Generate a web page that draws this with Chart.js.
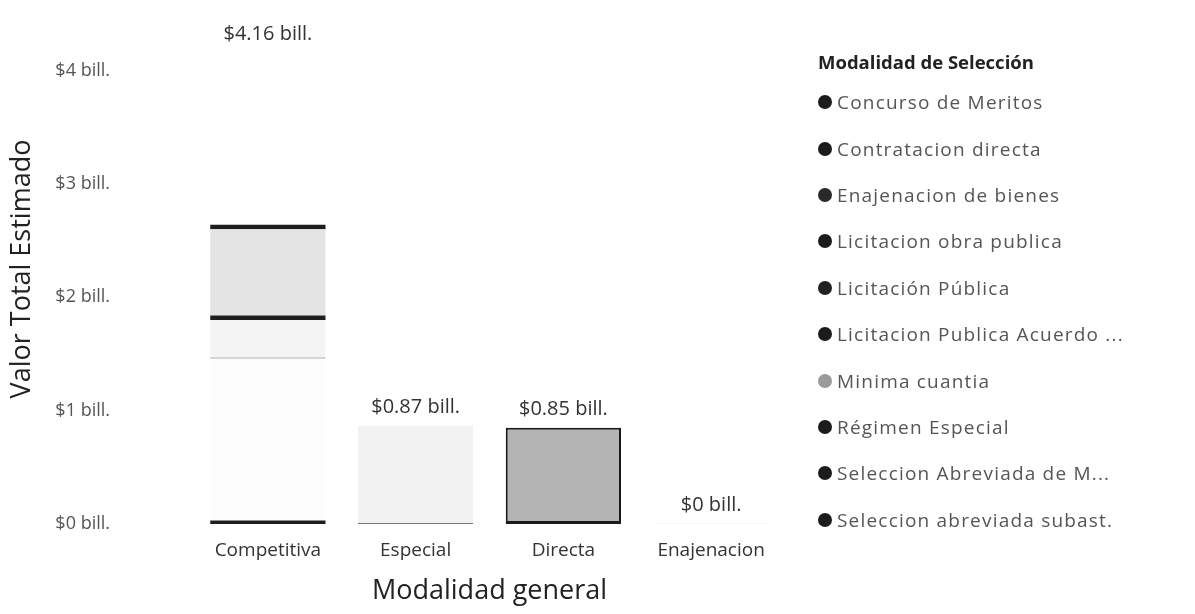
<!DOCTYPE html>
<html lang="es">
<head>
<meta charset="utf-8">
<script src="https://cdn.jsdelivr.net/npm/chart.js@4.4.1/dist/chart.umd.min.js"></script>
<style>
  html, body { margin: 0; padding: 0; background: #fff; }
  #wrap { position: relative; width: 1195px; height: 614px; overflow: hidden; }
  #grafico { position: absolute; left: 0; top: 0; }
  #leyenda { position: absolute; left: 818px; top: 49px; font-family: "Open Sans", sans-serif; }
  #leyenda h4 { margin: 0 0 5px 0; font-size: 18.5px; line-height: 25px; font-weight: 700; color: #222; }
  #leyenda ul { list-style: none; margin: 0; padding: 0; }
  #leyenda li { height: 46.4px; display: flex; align-items: center; font-size: 19px; letter-spacing: 1.2px; color: #555; white-space: nowrap; }
  #leyenda .punto { width: 14px; height: 14px; border-radius: 50%; margin-right: 5px; box-sizing: border-box; flex: none; }
</style>
</head>
<body>
<div id="wrap">
  <canvas id="grafico" width="1195" height="614"></canvas>
  <div id="leyenda"></div>
</div>
<script>
// categorias del eje x
var modalidadGeneral = ['Competitiva', 'Especial', 'Directa', 'Enajenacion'];

// valores en billones, en el orden de modalidadGeneral
var concursoMeritos      = [0.03, 0, 0, 0];
var contratacionDirecta  = [0, 0, 0.85, 0];
var enajenacionBienes    = [0, 0, 0, 0.002];
var licitacionObra       = [1.44, 0, 0, 0];
var licitacionPublica    = [0.33, 0, 0, 0];
var licitacionAcuerdo    = [0.04, 0, 0, 0];
var minimaCuantia        = [0.76, 0, 0, 0];
var regimenEspecial      = [0, 0.87, 0, 0];
var seleccionAbreviadaM  = [0.04, 0, 0, 0];
var seleccionSubasta     = [1.52, 0, 0, 0];

var nombresSeleccion = [
    'Concurso de Meritos',
    'Contratacion directa',
    'Enajenacion de bienes',
    'Licitacion obra publica',
    'Licitación Pública',
    'Licitacion Publica Acuerdo ...',
    'Minima cuantia',
    'Régimen Especial',
    'Seleccion Abreviada de M...',
    'Seleccion abreviada subast.'
];
var seriesSeleccion = [
    concursoMeritos, contratacionDirecta, enajenacionBienes, licitacionObra,
    licitacionPublica, licitacionAcuerdo, minimaCuantia, regimenEspecial,
    seleccionAbreviadaM, seleccionSubasta
];

// marcas del eje y
var ticksY = [0, 1, 2, 3, 4];

// estilo de cada serie (relleno, borde, marca de leyenda)
var estilos = [
    { fill: '#1e1e1e', line: '#1e1e1e', border: 0, marca: '#1c1c1c' },
    { fill: '#b4b4b4', line: '#1a1a1a', border: { top: 2, left: 2, right: 2, bottom: 3 }, marca: '#1c1c1c' },
    { fill: '#dddddd', line: '#1a1a1a', border: 0, marca: '#2a2a2a' },
    { fill: '#fdfdfd', line: '#666666', border: { top: 1 }, marca: '#1c1c1c' },
    { fill: '#f4f4f4', line: '#1a1a1a', border: 0, marca: '#222222' },
    { fill: '#1e1e1e', line: '#1e1e1e', border: 0, marca: '#1c1c1c' },
    { fill: '#e4e4e4', line: '#1a1a1a', border: 0, marca: '#9a9a9a' },
    { fill: '#f2f2f2', line: '#777777', border: { bottom: 1 }, marca: '#1c1c1c' },
    { fill: '#1e1e1e', line: '#1e1e1e', border: 0, marca: '#1c1c1c' },
    { fill: '#ffffff', line: '#1a1a1a', border: 0, marca: '#1c1c1c' }
];

function formatoBill(v) {
    return '$' + Number(v.toFixed(2)) + ' bill.';
}

var totalesPlugin = {
    id: 'totales',
    afterDatasetsDraw: function (chart) {
        var ctx = chart.ctx;
        var xs = chart.scales.x, ys = chart.scales.y;
        ctx.save();
        ctx.font = '20px "Open Sans", sans-serif';
        ctx.fillStyle = '#333';
        ctx.textAlign = 'center';
        ctx.textBaseline = 'middle';
        modalidadGeneral.forEach(function (cat, i) {
            var total = 0;
            chart.data.datasets.forEach(function (ds) { total += ds.data[i]; });
            ctx.fillText(formatoBill(total), xs.getPixelForValue(i), ys.getPixelForValue(total) - 18);
        });
        ctx.restore();
    }
};

Chart.defaults.font.family = '"Open Sans", sans-serif';

var datasets = seriesSeleccion.map(function (valores, i) {
    return {
        label: nombresSeleccion[i],
        data: valores,
        backgroundColor: estilos[i].fill,
        borderColor: estilos[i].line,
        borderWidth: estilos[i].border,
        borderSkipped: false,
        barPercentage: 0.78,
        categoryPercentage: 1
    };
});

var chart = new Chart(document.getElementById('grafico'), {
    type: 'bar',
    data: { labels: modalidadGeneral, datasets: datasets },
    options: {
        responsive: false,
        animation: false,
        layout: { padding: { top: 14, right: 410, bottom: 6, left: 4 } },
        plugins: {
            legend: { display: false },
            tooltip: { enabled: false }
        },
        scales: {
            x: {
                stacked: true,
                afterFit: function (axis) {
                    axis.height = 84;
                },
                grid: { display: false, drawTicks: false },
                border: { display: false },
                ticks: { color: '#333', font: { size: 19 }, padding: 15 },
                title: { display: true, text: 'Modalidad general', color: '#222', font: { size: 27 }, padding: { top: 4, bottom: 0 } }
            },
            y: {
                stacked: true,
                min: 0,
                max: 4.5,
                afterBuildTicks: function (axis) {
                    axis.ticks = ticksY.map(function (v) { return { value: v }; });
                },
                afterFit: function (axis) {
                    // ancho fijo del eje; sin relleno extra arriba/abajo
                    axis.width = 190;
                    axis.paddingTop = 0;
                    axis.paddingBottom = 0;
                },
                grid: { display: false, drawTicks: false },
                border: { display: false },
                ticks: {
                    color: '#555',
                    font: { size: 18 },
                    padding: 84,
                    callback: function (v) { return '$' + v + ' bill.'; }
                },
                title: { display: true, text: 'Valor Total Estimado', color: '#222', font: { size: 27 }, padding: { top: 2, bottom: 4 } }
            }
        }
    },
    plugins: [totalesPlugin]
});

// leyenda en html a partir de los datasets
var leyenda = document.getElementById('leyenda');
var html = '<h4>Modalidad de Selección</h4><ul>';
chart.data.datasets.forEach(function (ds, i) {
    html += '<li><span class="punto" style="background:' + estilos[i].marca + '"></span>' + ds.label + '</li>';
});
html += '</ul>';
leyenda.innerHTML = html;
</script>
</body>
</html>
